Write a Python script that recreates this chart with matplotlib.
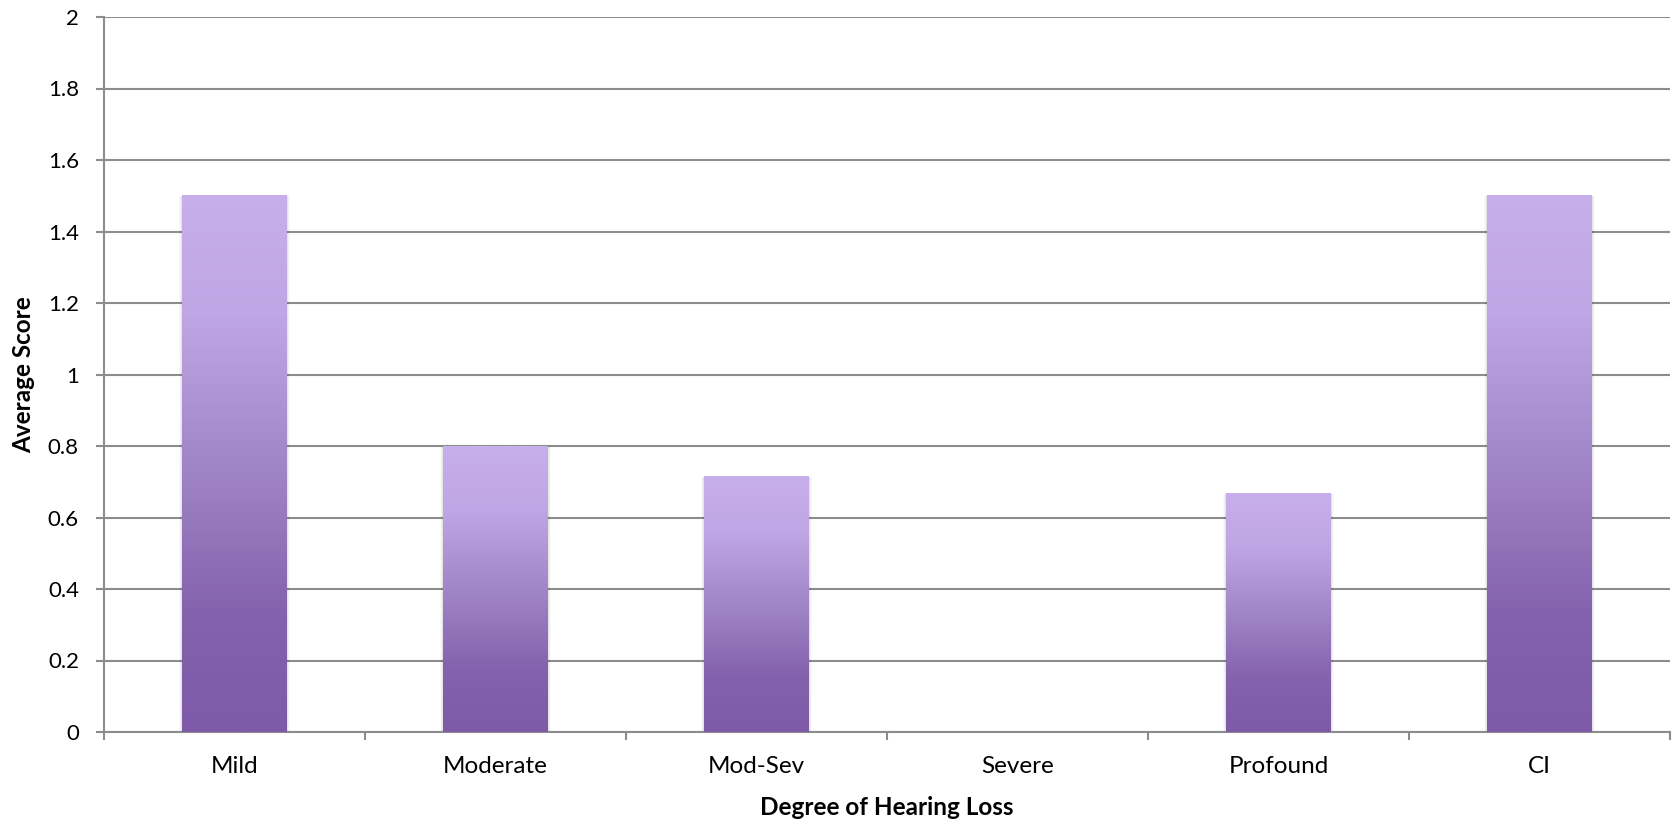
import matplotlib
matplotlib.use("Agg")
import matplotlib.pyplot as plt
import numpy as np
from matplotlib.colors import LinearSegmentedColormap
from matplotlib.ticker import FuncFormatter

categories = ["Mild", "Moderate", "Mod-Sev", "Severe", "Profound", "CI"]
scores = [1.5, 0.8, 0.714, 0.0, 0.667, 1.5]
y_ticks = [0, 0.2, 0.4, 0.6, 0.8, 1.0, 1.2, 1.4, 1.6, 1.8, 2.0]
x_title = "Degree of Hearing Loss"
y_title = "Average Score"

plt.rcParams['font.family'] = ['Lato', 'DejaVu Sans']

W, H, DPI = 1681, 825, 100
fig = plt.figure(figsize=(W / DPI, H / DPI), dpi=DPI)
ax = fig.add_axes([104 / W, 1 - 732 / H, (1670 - 104) / W, (732 - 17) / H])

grad = LinearSegmentedColormap.from_list("purp", [
    (0.0, "#7E5AA8"),
    (0.22, "#8462AD"),
    (0.5, "#A186C7"),
    (0.78, "#BFA6E4"),
    (1.0, "#C7AFEB"),
])

x = np.arange(len(categories))
width = 0.4
bars = ax.bar(x, scores, width=width, color="none", edgecolor="none", zorder=3)

gimg = np.linspace(0, 1, 256).reshape(-1, 1)
for b, v in zip(bars, scores):
    if v <= 0:
        continue
    x0 = b.get_x()
    x1 = x0 + b.get_width()
    for k, a in enumerate([0.05, 0.035, 0.02]):
        off = 0.004 * (k + 1)
        ax.add_patch(plt.Rectangle((x0 - off, -0.004 * (k + 1)), (x1 - x0) + 2 * off,
                                   v + 0.004 * (k + 1), color="black", alpha=a,
                                   lw=0, zorder=2.5))
    ax.imshow(gimg, cmap=grad, origin="lower", aspect="auto",
              extent=(x0, x1, 0, v), zorder=3, interpolation="bilinear")

ax.set_xlim(-0.5, len(categories) - 0.5)
ax.set_ylim(0, 2)
ax.set_yticks(y_ticks)
ax.yaxis.set_major_formatter(FuncFormatter(lambda v, p: "%g" % round(v, 1)))
ax.set_xticks(x)
ax.set_xticklabels(categories)
ax.set_xticks(np.arange(-0.5, len(categories), 1.0), minor=True)

gray = "#8C8C8C"
ax.grid(axis="y", color=gray, linewidth=1.5, zorder=1)
ax.set_axisbelow(True)
for s in ["top", "right"]:
    ax.spines[s].set_visible(False)
for s in ["left", "bottom"]:
    ax.spines[s].set_color(gray)
    ax.spines[s].set_linewidth(1.5)

ax.tick_params(axis="y", which="major", length=6, width=1.5, color=gray,
               labelsize=16, pad=12, labelcolor="black")
ax.tick_params(axis="x", which="major", length=0, labelsize=17.5, pad=17,
               labelcolor="black")
ax.tick_params(axis="x", which="minor", length=6, width=1.5, color=gray)

ax.set_xlabel(x_title, fontsize=17.5, fontweight="bold", labelpad=14)
ax.set_ylabel(y_title, fontsize=17.5, fontweight="bold", labelpad=9)

fig.savefig("out.png", dpi=DPI)
